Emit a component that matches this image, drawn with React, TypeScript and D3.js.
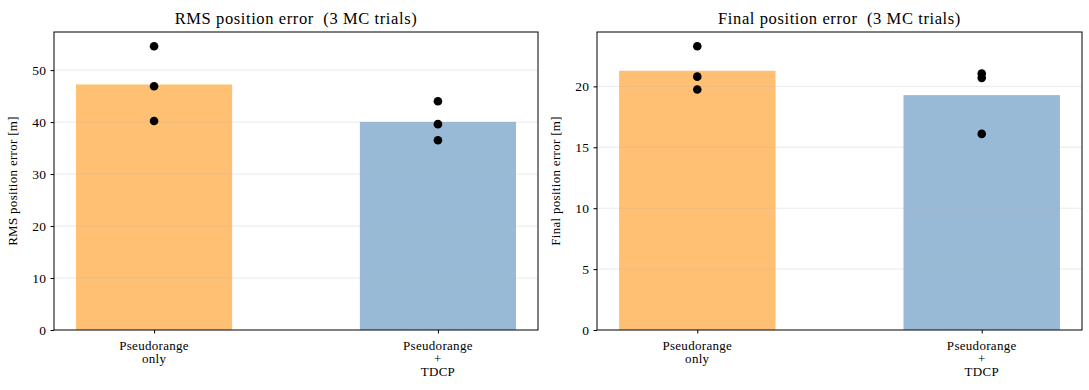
import { useEffect, useRef } from "react";
import * as d3 from "d3";

const methods = ["Pseudorange\nonly", "Pseudorange\n+\nTDCP"];
const colors = ["darkorange", "steelblue"];

const rmsTrials = [
  [54.6, 46.9, 40.2],
  [44.0, 39.6, 36.5],
];
const finalTrials = [
  [23.3, 20.8, 19.75],
  [21.05, 20.7, 16.1],
];

const rmsTicks = [0, 10, 20, 30, 40, 50];
const finalTicks = [0, 5, 10, 15, 20];

const FONT = "'Liberation Serif', 'DejaVu Serif', serif";

interface Panel {
  left: number;
  right: number;
  title: string;
  ylabel: string;
  trials: number[][];
  ticks: number[];
}

const panels: Panel[] = [
  { left: 54, right: 538, title: "RMS position error  (3 MC trials)", ylabel: "RMS position error [m]", trials: rmsTrials, ticks: rmsTicks },
  { left: 597, right: 1082, title: "Final position error  (3 MC trials)", ylabel: "Final position error [m]", trials: finalTrials, ticks: finalTicks },
];

export default function App() {
  const svgRef = useRef<SVGSVGElement>(null);

  useEffect(() => {
    const svg = d3.select(svgRef.current);
    svg.selectAll("*").remove();
    const top = 32;
    const bottom = 330;

    panels.forEach((p) => {
      const g = svg.append("g");
      const means = p.trials.map((t) => d3.mean(t) as number);
      const ymax = (d3.max(p.trials.flat()) as number) * 1.05;
      const y = d3.scaleLinear().domain([0, ymax]).range([bottom, top]);
      const barW = 0.55;
      const x = d3.scaleLinear().domain([-barW / 2 - 0.0775, 1 + barW / 2 + 0.0775]).range([p.left, p.right]);

      // bars
      g.selectAll(".bar")
        .data(means)
        .enter()
        .append("rect")
        .attr("x", (_, i) => x(i - barW / 2))
        .attr("width", x(barW) - x(0))
        .attr("y", (d) => y(d))
        .attr("height", (d) => bottom - y(d))
        .attr("fill", (_, i) => colors[i])
        .attr("fill-opacity", 0.55);

      // grid
      g.selectAll(".grid")
        .data(p.ticks.filter((t) => t > 0))
        .enter()
        .append("line")
        .attr("x1", p.left)
        .attr("x2", p.right)
        .attr("y1", (d) => y(d))
        .attr("y2", (d) => y(d))
        .attr("stroke", "#b0b0b0")
        .attr("stroke-opacity", 0.35)
        .attr("stroke-width", 0.8);

      // points
      p.trials.forEach((t, i) => {
        g.selectAll(null)
          .data(t)
          .enter()
          .append("circle")
          .attr("cx", x(i))
          .attr("cy", (d) => y(d))
          .attr("r", 4.3)
          .attr("fill", "black");
      });

      // frame
      g.append("rect")
        .attr("x", p.left)
        .attr("y", top)
        .attr("width", p.right - p.left)
        .attr("height", bottom - top)
        .attr("fill", "none")
        .attr("stroke", "black")
        .attr("stroke-width", 1);

      // y axis
      const yAxis = g.append("g").attr("transform", `translate(${p.left},0)`)
        .call(d3.axisLeft(y).tickValues(p.ticks).tickSize(3.5).tickPadding(4));
      yAxis.select(".domain").remove();
      yAxis.selectAll(".tick text")
        .attr("font-family", FONT)
        .attr("font-size", "13.5px")
        .attr("letter-spacing", "0.4px")
        .attr("fill", "black");

      // x axis
      const xAxis = g.append("g").attr("transform", `translate(0,${bottom})`)
        .call(d3.axisBottom(x).tickValues([0, 1]).tickSize(3.5).tickFormat(() => ""));
      xAxis.select(".domain").remove();
      methods.forEach((m, i) => {
        const lines = m.split("\n");
        const txt = g.append("text")
          .attr("x", x(i))
          .attr("y", bottom + 19.5)
          .attr("text-anchor", "middle")
          .attr("font-family", FONT)
          .attr("font-size", "13px")
          .attr("letter-spacing", "0.3px");
        lines.forEach((l, k) => {
          txt.append("tspan").attr("x", x(i)).attr("dy", k === 0 ? 0 : 13).text(l);
        });
      });

      // title
      g.append("text")
        .attr("x", (p.left + p.right) / 2)
        .attr("y", 24)
        .attr("text-anchor", "middle")
        .attr("font-family", FONT)
        .attr("font-size", "16.5px")
        .attr("letter-spacing", "0.6px")
        .style("white-space", "pre")
        .text(p.title);

      // y label
      g.append("text")
        .attr("transform", `translate(${p.left - 37},${(top + bottom) / 2}) rotate(-90)`)
        .attr("text-anchor", "middle")
        .attr("font-family", FONT)
        .attr("font-size", "13px")
        .attr("letter-spacing", "0.3px")
        .text(p.ylabel);
    });
  }, []);

  return (
    <svg
      ref={svgRef}
      width={1089}
      height={390}
      style={{ position: "absolute", left: 0, top: 0, background: "white" }}
    />
  );
}
